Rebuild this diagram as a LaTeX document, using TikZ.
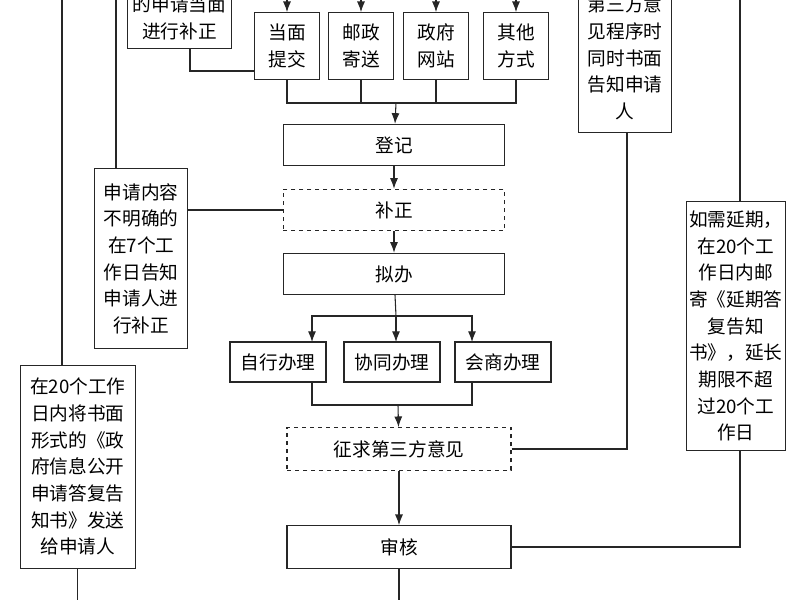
\documentclass[tikz,border=0pt]{standalone}
\usepackage{fontspec}
\setmainfont{Noto Sans CJK SC}
\usetikzlibrary{arrows.meta}
\tikzset{
    box/.style = {draw, gray!30!black, thick, text = black, inner sep = 0pt, align = center,
        font = \fontsize{14pt}{20pt}\selectfont},
    dbox/.style = {box, dashed},
    flow/.style = {thick, gray!30!black, -{Latex[length=8pt,width=6pt]}},
    link/.style = {thick, gray!30!black}
}
\begin{document}
\begin{tikzpicture}[x = 0.75pt, y = -0.75pt]
        \useasboundingbox (0,0) rectangle (800,600);
        \clip (0,0) rectangle (800,600);
        % left and right notes
        \node[box, minimum width = 78pt, minimum height = 46pt, anchor = south west] (facenote) at (127,49) {的申请当面\\进行补正};
        \node[box, minimum width = 70pt, minimum height = 135pt, anchor = north west] (vaguenote) at (94,168) {申请内容\\不明确的\\在7个工\\作日告知\\申请人进\\行补正};
        \node[box, minimum width = 86pt, minimum height = 152pt, anchor = north west] (replynote) at (20,365) {在20个工作\\日内将书面\\形式的《政\\府信息公开\\申请答复告\\知书》发送\\给申请人};
        \node[box, minimum width = 70pt, minimum height = 112pt, anchor = south west] (thirdnote) at (578,133) {第三方意\\见程序时\\同时书面\\告知申请\\人};
        \node[box, minimum width = 74pt, minimum height = 187pt, anchor = north west] (extnote) at (686,201) {如需延期，\\在20个工\\作日内邮\\寄《延期答\\复告知\\书》，延长\\期限不超\\过20个工\\作日};
        % ways of submitting
        \foreach \name/\txt/\x in {face/当面\\提交/287, post/邮政\\寄送/361, web/政府\\网站/436, other/其他\\方式/516} {
            \node[box, minimum width = 49pt, minimum height = 50pt] (\name) at (\x,46) {\txt};
            \coordinate (\name in) at (\x,-10);
            \draw[flow] (\name in) -- (\name);
        }
        % main steps
        \node[box, minimum width = 166pt, minimum height = 31pt] (register) at (394,145) {登记};
        \node[dbox, minimum width = 166pt, minimum height = 31pt] (amend) at (394,210) {补正};
        \node[box, minimum width = 166pt, minimum height = 31pt] (draft) at (394,274) {拟办};
        \node[box, minimum width = 72pt, minimum height = 30pt] (self) at (278,362) {自行办理};
        \node[box, minimum width = 72pt, minimum height = 30pt] (joint) at (392,362) {协同办理};
        \node[box, minimum width = 72pt, minimum height = 30pt] (consult) at (503,362) {会商办理};
        \node[dbox, minimum width = 168pt, minimum height = 32pt] (third) at (399,449) {征求第三方意见};
        \node[box, minimum width = 168pt, minimum height = 32pt] (review) at (399,547) {审核};
        % connectors
        \coordinate (merge) at (396,103);
        \foreach \name in {face, post, web, other}
            \draw[link] (\name.south) |- (merge);
        \draw[flow] (merge) -- (register);
        \draw[flow] (register) -- (amend);
        \draw[flow] (amend) -- (draft);
        \coordinate (split) at (396,316);
        \draw[link] (draft) -- (split);
        \draw[flow] (split) -| (312,342);
        \draw[flow] (split) -- (396,342);
        \draw[flow] (split) -| (472,342);
        \coordinate (join) at (398,405);
        \draw[link] (312,382) |- (join) -| (472,382);
        \draw[flow] (join) -- (third);
        \draw[flow] (third) -- (review);
        \draw[link] (190,49) |- (face.west |- 0,71);
        \draw[link] (vaguenote.east |- amend) -- (amend.west);
        \draw[link] (third.east) -| (627,133);
        \coordinate (ext top) at (740,201);
        \coordinate (ext bottom) at (740,450);
        \draw[link] (ext bottom) |- (review.east);
        \draw[link] (116,0) -- (116,168);
        \draw[link] (62,0) -- (62,365);
        \draw[link] (740,0) -- (ext top);
        \draw[link] (review.south) -- (399,610);
        \draw[link] (replynote.south) -- (replynote.south |- 0,610);
    \end{tikzpicture}
\end{document}
